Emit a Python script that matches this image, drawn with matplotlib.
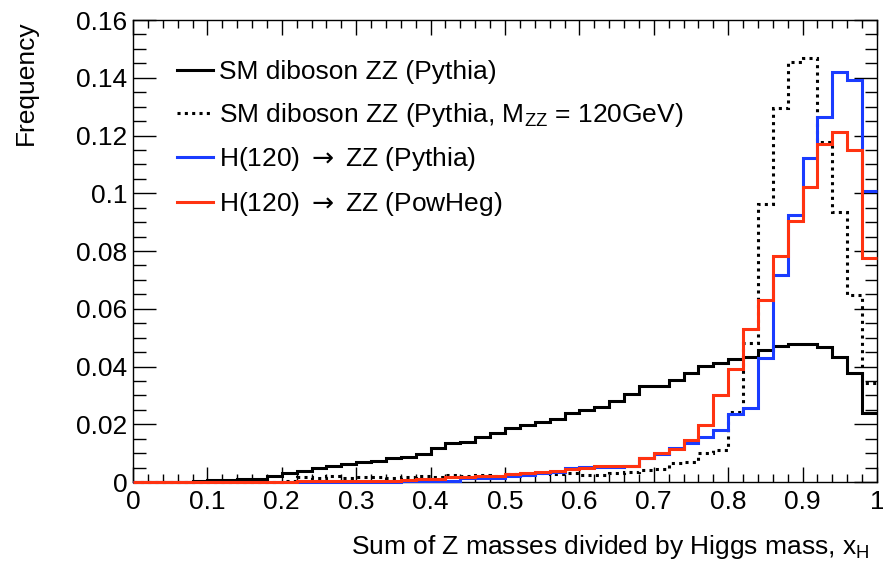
import numpy as np
import matplotlib.pyplot as plt
from matplotlib.ticker import MultipleLocator, FuncFormatter
from matplotlib.lines import Line2D

plt.rcParams['font.family'] = ['Liberation Sans', 'DejaVu Sans']
plt.rcParams['mathtext.fontset'] = 'custom'
plt.rcParams['mathtext.rm'] = 'Liberation Sans'
plt.rcParams['mathtext.it'] = 'Liberation Sans'
plt.rcParams['mathtext.tt'] = 'DejaVu Sans'

# 50 bins of width 0.02 on [0, 1]
bin_edges = np.linspace(0.0, 1.0, 51)

# SM diboson ZZ (Pythia)
sm_zz = [0, 0, 0.0001, 0.0001, 0.0002, 0.0006, 0.0007, 0.0010, 0.0010, 0.0021,
         0.0030, 0.0038, 0.0047, 0.0055, 0.0063, 0.0069, 0.0072, 0.0082, 0.0088, 0.0097,
         0.0117, 0.0135, 0.0140, 0.0157, 0.0169, 0.0186, 0.0197, 0.0209, 0.0217, 0.0240,
         0.0249, 0.0260, 0.0282, 0.0305, 0.0331, 0.0331, 0.0353, 0.0377, 0.0402, 0.0411,
         0.0425, 0.0434, 0.0457, 0.0471, 0.0477, 0.0478, 0.0466, 0.0433, 0.0377, 0.0238]

# SM diboson ZZ (Pythia, M_ZZ = 120GeV)
sm_zz_120 = [0, 0, 0, 0, 0, 0, 0, 0, 0, 0,
             0.0003, 0.0018, 0.0013, 0.0020, 0.0013, 0.0018, 0.0016, 0.0014, 0.0018, 0.0020,
             0.0018, 0.0024, 0.0020, 0.0024, 0.0022, 0.0026, 0.0024, 0.0030, 0.0026, 0.0030,
             0.0024, 0.0024, 0.0032, 0.0036, 0.0042, 0.0044, 0.0065, 0.0070, 0.0101, 0.0111,
             0.0244, 0.0480, 0.0964, 0.1294, 0.1456, 0.1467, 0.1176, 0.0934, 0.0648, 0.0342]

# H(120) -> ZZ (Pythia)
h_pythia = [0, 0, 0, 0, 0, 0, 0, 0, 0, 0,
            0, 0, 0.0001, 0.0001, 0.0001, 0.0001, 0.0001, 0.0001, 0.0002, 0.0002,
            0.0002, 0.0005, 0.0013, 0.0013, 0.0015, 0.0022, 0.0025, 0.0030, 0.0036, 0.0050,
            0.0053, 0.0053, 0.0052, 0.0056, 0.0082, 0.0098, 0.0118, 0.0135, 0.0157, 0.0179,
            0.0235, 0.0255, 0.0428, 0.0717, 0.0925, 0.1121, 0.1264, 0.1421, 0.1392, 0.1007]

# H(120) -> ZZ (PowHeg)
h_powheg = [0, 0, 0, 0, 0, 0, 0, 0, 0, 0,
            0.0001, 0.0002, 0.0002, 0.0003, 0.0003, 0.0004, 0.0005, 0.0005, 0.0008, 0.0009,
            0.0009, 0.0016, 0.0016, 0.0020, 0.0022, 0.0026, 0.0030, 0.0035, 0.0037, 0.0046,
            0.0050, 0.0056, 0.0056, 0.0057, 0.0083, 0.0100, 0.0115, 0.0145, 0.0196, 0.0300,
            0.0390, 0.0529, 0.0630, 0.0783, 0.0905, 0.1022, 0.1172, 0.1212, 0.1151, 0.0775]

labels = ['SM diboson ZZ (Pythia)',
          'SM diboson ZZ (Pythia, M$_{ZZ}$ = 120GeV)',
          'H(120) $\\mathtt{\\rightarrow}$ ZZ (Pythia)',
          'H(120) $\\mathtt{\\rightarrow}$ ZZ (PowHeg)']

blue = '#1a3cff'
red = '#ff3311'
dots = (0, (1.0, 1.4))

fig = plt.figure(figsize=(8.83, 5.67), dpi=100)
ax = fig.add_axes([0.1506, 0.1499, 0.8426, 0.8148])

lw = 2.2
ax.stairs(sm_zz, bin_edges, color='black', lw=lw, baseline=None, zorder=3, clip_on=False)
ax.stairs(sm_zz_120, bin_edges, color='black', lw=lw, linestyle=dots, baseline=None,
          zorder=3, clip_on=False)
ax.stairs(h_pythia, bin_edges, color=blue, lw=lw, baseline=None, zorder=3, clip_on=False)
ax.stairs(h_powheg, bin_edges, color=red, lw=lw, baseline=None, zorder=3, clip_on=False)

ax.set_xlim(0, 1)
ax.set_ylim(0, 0.16)

fmt = FuncFormatter(lambda v, p: '%g' % round(v, 4))
ax.xaxis.set_major_locator(MultipleLocator(0.1))
ax.xaxis.set_minor_locator(MultipleLocator(0.02))
ax.yaxis.set_major_locator(MultipleLocator(0.02))
ax.yaxis.set_minor_locator(MultipleLocator(0.005))
ax.xaxis.set_major_formatter(fmt)
ax.yaxis.set_major_formatter(fmt)

ax.tick_params(which='both', direction='in', top=True, right=True, width=1.0,
               labelsize=19)
ax.tick_params(axis='x', which='major', length=11, pad=6)
ax.tick_params(axis='x', which='minor', length=5.5)
ax.tick_params(axis='y', which='major', length=16.5, pad=4)
ax.tick_params(axis='y', which='minor', length=9)
for sp in ax.spines.values():
    sp.set_linewidth(1.0)

ax.set_xlabel('Sum of Z masses divided by Higgs mass, x$_{\\mathregular{H}}$',
              fontsize=19, ha='right')
ax.xaxis.set_label_coords(0.99, -0.11)
ax.set_ylabel('Frequency', fontsize=19, ha='right')
ax.yaxis.set_label_coords(-0.128, 1.0)

handles = [Line2D([], [], color='black', lw=lw),
           Line2D([], [], color='black', lw=lw, linestyle=dots),
           Line2D([], [], color=blue, lw=lw),
           Line2D([], [], color=red, lw=lw)]
ax.legend(handles, labels, loc='upper left', bbox_to_anchor=(0.0585, 0.913),
          frameon=False, fontsize=19, handlelength=1.4, handletextpad=0.22,
          labelspacing=0.63, borderpad=0, borderaxespad=0)

fig.savefig('out.png', dpi=100, facecolor='white')
